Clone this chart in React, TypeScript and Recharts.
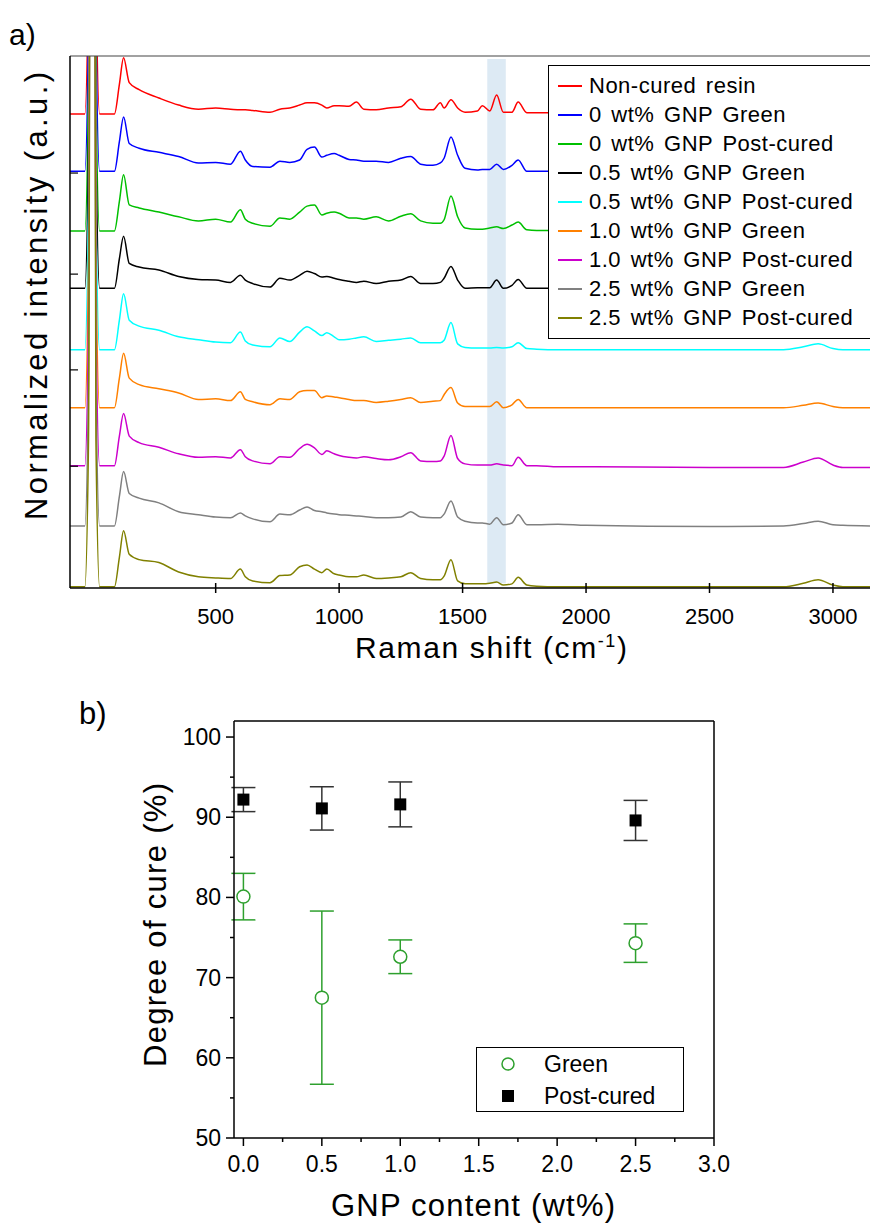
import {
  ErrorBar,
  Label,
  Legend,
  Line,
  LineChart,
  ReferenceArea,
  Scatter,
  ScatterChart,
  XAxis,
  YAxis,
} from 'recharts'

const FONT = '"Liberation Sans", Arial, sans-serif'

// ---- a) Raman spectra (heights relative to each trace's own baseline) ----
const ramanShift = [
  -90, -30, -15, 0, 15, 30, 90, 110,
  127, 150, 190, 270, 350, 430, 500, 560, 600, 620,
  650, 720, 760, 800, 840, 870, 900, 930, 950, 980,
  1000, 1040, 1070, 1100, 1150, 1200, 1250, 1290, 1330, 1380,
  1410, 1425, 1453, 1480, 1510, 1560, 1580, 1610, 1638, 1665,
  1700, 1725, 1760, 1800, 1886, 2000, 2500, 2800, 2880, 2940,
  3000, 3040, 3150,
]

const nonCured = [
  0, 0, 2.5, 30, 2.5, 0, 0, 0.5,
  0.95, 0.53, 0.41, 0.27, 0.15, 0.08, 0.1, 0.08, 0.07, 0.07,
  0.06, 0.03, 0.08, 0.1, 0.15, 0.19, 0.19, 0.15, 0.1, 0.14,
  0.14, 0.13, 0.2, 0.08, 0.07, 0.1, 0.12, 0.25, 0.08, 0.07,
  0.19, 0.1, 0.24, 0.1, 0.03, 0.05, 0.14, 0.05, 0.32, 0.03,
  0.03, 0.2, 0.02, 0.02, 0.02, 0.02, 0.02, 0.02, 0.08, 0.14,
  0.05, 0.02, 0.02,
]
const gnp0Green = [
  0, 0, 2.5, 30, 2.5, 0, 0, 0.5,
  0.92, 0.47, 0.39, 0.32, 0.25, 0.14, 0.15, 0.12, 0.34, 0.19,
  0.08, 0.07, 0.17, 0.15, 0.19, 0.37, 0.41, 0.24, 0.27, 0.3,
  0.27, 0.2, 0.19, 0.17, 0.17, 0.15, 0.22, 0.25, 0.12, 0.1,
  0.14, 0.22, 0.58, 0.27, 0.05, 0.02, 0.03, 0.03, 0.12, 0.03,
  0.1, 0.19, 0, 0, 0, 0, 0, 0, 0.06, 0.12,
  0.04, 0, 0,
]
const gnp0Post = [
  0, 0, 2.5, 30, 2.5, 0, 0, 0.5,
  0.95, 0.44, 0.39, 0.32, 0.24, 0.17, 0.2, 0.15, 0.36, 0.2,
  0.13, 0.08, 0.22, 0.2, 0.32, 0.42, 0.44, 0.27, 0.3, 0.32,
  0.3, 0.22, 0.22, 0.2, 0.24, 0.17, 0.25, 0.29, 0.17, 0.13,
  0.13, 0.19, 0.59, 0.24, 0.05, 0.03, 0.03, 0.05, 0.07, 0.04,
  0.1, 0.15, 0.02, 0.01, 0.01, 0.01, 0.01, 0.01, 0.08, 0.14,
  0.05, 0.01, 0.01,
]
const gnp05Green = [
  0, 0, 2.5, 30, 2.5, 0, 0, 0.5,
  0.88, 0.42, 0.36, 0.31, 0.2, 0.15, 0.14, 0.1, 0.22, 0.14,
  0.08, 0.02, 0.17, 0.14, 0.22, 0.29, 0.25, 0.19, 0.2, 0.17,
  0.15, 0.12, 0.1, 0.12, 0.08, 0.12, 0.14, 0.2, 0.08, 0.08,
  0.1, 0.17, 0.37, 0.14, 0, 0.01, 0.01, 0.01, 0.14, 0,
  0.05, 0.15, 0, 0, 0, 0, 0, 0, 0.05, 0.09,
  0.03, 0, 0,
]
const gnp05Post = [
  0, 0, 2.5, 30, 2.5, 0, 0, 0.5,
  0.95, 0.5, 0.4, 0.33, 0.22, 0.17, 0.13, 0.12, 0.3, 0.15,
  0.08, 0.05, 0.2, 0.14, 0.3, 0.39, 0.32, 0.24, 0.29, 0.22,
  0.17, 0.18, 0.2, 0.22, 0.14, 0.16, 0.18, 0.2, 0.12, 0.12,
  0.12, 0.16, 0.46, 0.1, 0.04, 0.03, 0.03, 0.03, 0.04, 0.03,
  0.05, 0.12, 0.02, 0.01, 0, 0, 0, 0, 0.05, 0.1,
  0.02, 0, 0,
]
const gnp10Green = [
  0, 0, 2.5, 30, 2.5, 0, 0, 0.5,
  0.92, 0.5, 0.39, 0.32, 0.25, 0.14, 0.15, 0.12, 0.27, 0.14,
  0.1, 0.05, 0.15, 0.14, 0.27, 0.29, 0.29, 0.17, 0.2, 0.18,
  0.17, 0.14, 0.12, 0.12, 0.09, 0.11, 0.14, 0.17, 0.09, 0.11,
  0.12, 0.22, 0.34, 0.08, 0.02, 0.02, 0.02, 0.02, 0.1, 0,
  0.05, 0.14, 0, 0, 0, 0, 0, 0, 0.04, 0.08,
  0.02, 0, 0,
]
const gnp10Post = [
  0, 0, 2.5, 30, 2.5, 0, 0, 0.5,
  0.88, 0.5, 0.39, 0.31, 0.2, 0.14, 0.15, 0.13, 0.27, 0.15,
  0.08, 0.03, 0.15, 0.14, 0.29, 0.36, 0.3, 0.19, 0.25, 0.2,
  0.17, 0.14, 0.13, 0.15, 0.12, 0.1, 0.15, 0.22, 0.08, 0.07,
  0.08, 0.16, 0.51, 0.12, 0.03, 0.01, 0.01, 0.01, 0.03, 0.01,
  0, 0.14, 0, 0, -0.02, -0.02, -0.03, -0.03, 0.06, 0.13,
  0.01, -0.03, -0.03,
]
const gnp25Green = [
  0, 0, 2.5, 30, 2.5, 0, 0, 0.5,
  0.92, 0.55, 0.47, 0.39, 0.24, 0.19, 0.15, 0.14, 0.22, 0.17,
  0.12, 0.07, 0.2, 0.19, 0.27, 0.32, 0.26, 0.24, 0.22, 0.2,
  0.19, 0.18, 0.17, 0.16, 0.14, 0.14, 0.15, 0.24, 0.15, 0.14,
  0.14, 0.2, 0.42, 0.15, 0.08, 0.05, 0.05, 0.03, 0.14, 0.02,
  0.05, 0.19, 0.02, 0.02, 0.03, 0.01, -0.01, 0, 0.04, 0.08,
  0.02, 0.01, 0,
]
const gnp25Post = [
  0, 0, 2.5, 30, 2.5, 0, 0, 0.5,
  0.95, 0.55, 0.46, 0.41, 0.25, 0.17, 0.15, 0.14, 0.3, 0.17,
  0.1, 0.07, 0.19, 0.2, 0.34, 0.37, 0.3, 0.24, 0.3, 0.22,
  0.2, 0.17, 0.17, 0.2, 0.14, 0.15, 0.17, 0.24, 0.14, 0.12,
  0.12, 0.18, 0.46, 0.1, 0.05, 0.05, 0.05, 0.06, 0.08, 0.03,
  0.05, 0.16, 0.03, 0.01, 0, 0, 0, 0, 0.06, 0.12,
  0.03, 0, 0,
]

const spectrumNames = [
  'Non-cured resin',
  '0 wt% GNP Green',
  '0 wt% GNP Post-cured',
  '0.5 wt% GNP Green',
  '0.5 wt% GNP Post-cured',
  '1.0 wt% GNP Green',
  '1.0 wt% GNP Post-cured',
  '2.5 wt% GNP Green',
  '2.5 wt% GNP Post-cured',
]
const spectrumColors = ['#ff0000', '#0000ff', '#00c000', '#000000', '#00ffff', '#ff8000', '#cc00cc', '#808080', '#808000']
const stackOffsets = [8.02, 7.05, 6.04, 5.07, 4.03, 3.05, 2.07, 1.05, 0.02]
const spectra = [nonCured, gnp0Green, gnp0Post, gnp05Green, gnp05Post, gnp10Green, gnp10Post, gnp25Green, gnp25Post]

const shiftTicks = [500, 1000, 1500, 2000, 2500, 3000]
const intensityTicks = [2.06, 3.69, 5.31, 7.02]
const c2Band = [1600, 1675]

const spectrumRows = ramanShift.map((shift, i) => {
  const row: Record<string, number> = { shift }
  spectra.forEach((s, k) => {
    row['s' + k] = s[i] + stackOffsets[k]
  })
  return row
})

// ---- b) degree of cure ----
const gnpContent = [0, 0.5, 1.0, 2.5]
const greenCure = [80.1, 67.5, 72.6, 74.3]
const greenErr = [2.9, 10.8, 2.1, 2.4]
const postCure = [92.2, 91.1, 91.6, 89.6]
const postErr = [1.5, 2.7, 2.8, 2.5]
const contentTicks = [0, 0.25, 0.5, 0.75, 1, 1.25, 1.5, 1.75, 2, 2.25, 2.5, 2.75, 3]
const cureTicks = [50, 55, 60, 65, 70, 75, 80, 85, 90, 95, 100]

const greenRows = gnpContent.map((x, i) => ({ x, y: greenCure[i], err: greenErr[i] }))
const postRows = gnpContent.map((x, i) => ({ x, y: postCure[i], err: postErr[i] }))

const GREEN = '#2ea02e'

const ShiftTick = ({ x, y, payload }: any) => (
  <g>
    <line x1={x} x2={x} y1={y - 5} y2={y + 5} stroke="#000" strokeWidth={1.5} />
    <text x={x} y={y + 36} textAnchor="middle" fontSize={22} fontFamily={FONT} fill="#000">
      {payload.value}
    </text>
  </g>
)

// inward tick marks on the intensity axis, no labels
const IntensityTick = ({ x, y }: any) => (
  <line x1={70} x2={78} y1={y} y2={y} stroke="#000" strokeWidth={1.2} data-x={x} />
)

const ContentTick = ({ x, y, payload }: any) => {
  const major = Math.abs(payload.value * 2 - Math.round(payload.value * 2)) < 1e-6
  return (
    <g>
      <line x1={x} x2={x} y1={y} y2={y + (major ? 8 : 4)} stroke="#000" strokeWidth={1.5} />
      {major && (
        <text x={x} y={y + 34} textAnchor="middle" fontSize={23} fontFamily={FONT} fill="#000">
          {payload.value.toFixed(1)}
        </text>
      )}
    </g>
  )
}

const CureTick = ({ x, y, payload }: any) => {
  const major = payload.value % 10 === 0
  return (
    <g>
      <line x1={x - (major ? 8 : 4)} x2={x} y1={y} y2={y} stroke="#000" strokeWidth={1.5} />
      {major && (
        <text x={x - 13} y={y + 8} textAnchor="end" fontSize={23} fontFamily={FONT} fill="#000">
          {payload.value}
        </text>
      )}
    </g>
  )
}

const SpectraLegend = () => (
  <div
    style={{
      position: 'relative',
      width: 330,
      height: 274,
      boxSizing: 'border-box',
      border: '1.5px solid #000',
      background: '#fff',
      fontFamily: FONT,
      fontSize: 22,
      letterSpacing: 0.5,
      wordSpacing: 3,
      color: '#000',
    }}
  >
    {spectrumNames.map((name, i) => (
      <div
        key={name}
        style={{ position: 'absolute', left: 9, top: 6 + 29 * i, height: 28, display: 'flex', alignItems: 'center', whiteSpace: 'nowrap' }}
      >
        <span style={{ display: 'inline-block', width: 24, height: 2, background: spectrumColors[i], marginRight: 7 }} />
        <span>{name}</span>
      </div>
    ))}
  </div>
)

const CureLegend = () => (
  <div
    style={{
      position: 'relative',
      width: 208,
      height: 65,
      boxSizing: 'border-box',
      border: '1px solid #000',
      background: '#fff',
      fontFamily: FONT,
      fontSize: 23,
      color: '#000',
    }}
  >
    <svg width={20} height={65} style={{ position: 'absolute', left: 21, top: 0 }}>
      <circle cx={10} cy={16} r={6} fill="#fff" stroke={GREEN} strokeWidth={1.5} />
      <rect x={4} y={42} width={12} height={12} fill="#000" />
    </svg>
    <div style={{ position: 'absolute', left: 67, top: 2, lineHeight: '28px' }}>Green</div>
    <div style={{ position: 'absolute', left: 67, top: 34, lineHeight: '28px' }}>Post-cured</div>
  </div>
)

export default function App() {
  return (
    <div style={{ position: 'absolute', left: 0, top: 0, width: 870, height: 1223, overflow: 'hidden', background: '#fff' }}>
      <div style={{ position: 'absolute', left: 0, top: 0 }}>
        <LineChart width={870} height={680} data={spectrumRows} margin={{ top: 55, right: 0, bottom: 0, left: 70 }}>
          <XAxis
            dataKey="shift"
            type="number"
            domain={[-90, 3150]}
            allowDataOverflow
            ticks={shiftTicks}
            interval={0}
            height={92}
            tickSize={0}
            tickMargin={0}
            tickLine={false}
            tick={(p: any) => <ShiftTick {...p} />}
            axisLine={{ stroke: '#000', strokeWidth: 1.5 }}
          >
            <Label
              content={() => (
                <text x={491} y={658} textAnchor="middle" fontSize={30} fontFamily={FONT} fill="#000" textLength={272} lengthAdjust="spacing">
                  Raman shift (cm<tspan dy={-11} fontSize={18}>-1</tspan>
                  <tspan dy={11}>)</tspan>
                </text>
              )}
            />
            <Label
              content={() => (
                <text x={47} y={296} transform="rotate(-90 47 296)" textAnchor="middle" fontSize={31} fontFamily={FONT} fill="#000" textLength={448} lengthAdjust="spacing">
                  Normalized intensity (a.u.)
                </text>
              )}
            />
          </XAxis>
          <XAxis xAxisId="top" orientation="top" type="number" domain={[-90, 3150]} height={1} tick={false} tickLine={false} axisLine={{ stroke: '#444', strokeWidth: 1.2 }} />
          <YAxis
            type="number"
            domain={[0, 9]}
            allowDataOverflow
            ticks={intensityTicks}
            interval={0}
            width={70}
            mirror
            tickSize={0}
            tickMargin={0}
            tickLine={false}
            tick={(p: any) => <IntensityTick {...p} />}
            axisLine={{ stroke: '#000', strokeWidth: 1.5 }}
          />
          {spectra.map((_, k) => (
            <Line
              key={k}
              dataKey={'s' + k}
              name={spectrumNames[k]}
              type="monotone"
              stroke={spectrumColors[k]}
              strokeWidth={1.5}
              dot={false}
              activeDot={false}
              isAnimationActive={false}
            />
          ))}
          <ReferenceArea x1={c2Band[0]} x2={c2Band[1]} y1={0.08} y2={8.95} fill="#bcd5ea" fillOpacity={0.5} stroke="none" />
          <Legend
            layout="horizontal"
            verticalAlign="middle"
            align="center"
            content={() => <SpectraLegend />}
            wrapperStyle={{ left: 548, top: 65, width: 330, height: 274 }}
          />
        </LineChart>
      </div>

      <div style={{ position: 'absolute', left: 0, top: 680 }}>
        <ScatterChart width={870} height={543} margin={{ top: 40, right: 155, bottom: 0, left: 0 }}>
          <XAxis
            dataKey="x"
            type="number"
            domain={[-0.06, 3]}
            ticks={contentTicks}
            interval={0}
            height={85}
            tickSize={0}
            tickMargin={0}
            tickLine={false}
            tick={(p: any) => <ContentTick {...p} />}
            axisLine={{ stroke: '#000', strokeWidth: 1.5 }}
          >
            <Label
              content={() => (
                <text x={473} y={536} textAnchor="middle" fontSize={31} fontFamily={FONT} fill="#000" textLength={284} lengthAdjust="spacing">
                  GNP content (wt%)
                </text>
              )}
            />
          </XAxis>
          <XAxis xAxisId="top" orientation="top" type="number" domain={[-0.06, 3]} height={1} tick={false} tickLine={false} axisLine={{ stroke: '#000', strokeWidth: 1.5 }} />
          <YAxis
            dataKey="y"
            type="number"
            domain={[50, 102]}
            ticks={cureTicks}
            interval={0}
            width={234}
            tickSize={0}
            tickMargin={0}
            tickLine={false}
            tick={(p: any) => <CureTick {...p} />}
            axisLine={{ stroke: '#000', strokeWidth: 1.5 }}
          >
            <Label
              content={() => (
                <text x={166} y={245} transform="rotate(-90 166 245)" textAnchor="middle" fontSize={31} fontFamily={FONT} fill="#000" textLength={284} lengthAdjust="spacing">
                  Degree of cure (%)
                </text>
              )}
            />
          </YAxis>
          <YAxis yAxisId="right" orientation="right" type="number" domain={[50, 102]} width={1} tick={false} tickLine={false} axisLine={{ stroke: '#000', strokeWidth: 1.5 }} />
          <Scatter
            name="Green"
            data={greenRows}
            isAnimationActive={false}
            shape={(p: any) => <circle cx={p.cx} cy={p.cy} r={6.5} fill="#fff" stroke={GREEN} strokeWidth={1.5} />}
          >
            <ErrorBar dataKey="err" direction="y" width={12} stroke={GREEN} strokeWidth={1.5} isAnimationActive={false} />
          </Scatter>
          <Scatter
            name="Post-cured"
            data={postRows}
            isAnimationActive={false}
            shape={(p: any) => <rect x={p.cx - 6} y={p.cy - 6} width={12} height={12} fill="#000" />}
          >
            <ErrorBar dataKey="err" direction="y" width={12} stroke="#333" strokeWidth={1.5} isAnimationActive={false} />
          </Scatter>
          <Legend
            layout="horizontal"
            verticalAlign="middle"
            align="center"
            content={() => <CureLegend />}
            wrapperStyle={{ left: 476, top: 367, width: 208, height: 65 }}
          />
        </ScatterChart>
      </div>

      <svg width={870} height={1223} style={{ position: 'absolute', left: 0, top: 0, pointerEvents: 'none' }}>
        <text x={9} y={45} fontSize={30} fontFamily={FONT} fill="#000">a)</text>
        <text x={79} y={724} fontSize={31} fontFamily={FONT} fill="#000">b)</text>
      </svg>
    </div>
  )
}
